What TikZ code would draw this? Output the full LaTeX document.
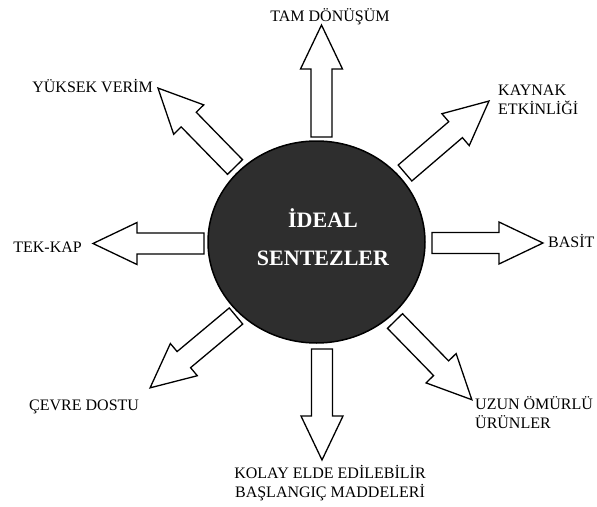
\documentclass[tikz,border=0pt]{standalone}
\usepackage{fontspec}
\setmainfont{Liberation Serif}
\usetikzlibrary{shapes.geometric}
\newcommand\blockarrow[3]{%
  \draw[barr,shift={#1},rotate=#2]
    (0,-10.5) -- (#3-44,-10.5) -- (#3-44,-21) -- (#3,0) -- (#3-44,21) -- (#3-44,10.5) -- (0,10.5) -- cycle;}
\begin{document}
\begin{tikzpicture}[x=1pt,y=-1pt,
  barr/.style={draw=black,fill=white,line width=1.3pt,line join=miter},
  lbl/.style={font=\fontsize{16}{19}\selectfont,inner sep=0pt,text=black},
  core/.style={ellipse,draw=black,line width=1.5pt,fill=black!82,minimum width=217pt,minimum height=202pt,inner sep=0pt},
  coretext/.style={font=\bfseries\fontsize{22}{38}\selectfont,text=white,align=center,inner sep=0pt}]
\useasboundingbox (0,0) rectangle (597,506);
\fill[white] (0,0) rectangle (597,506);
% central ellipse
\node[core] (core) at (316.5,242) {};
\node[coretext,anchor=base] (title) at (323,265) {İDEAL\\SENTEZLER};
% arrows
\blockarrow{(321.5,137)}{90}{112}
\blockarrow{(322,349)}{-90}{111}
\blockarrow{(432,243)}{0}{111}
\blockarrow{(204,243.5)}{180}{111}
\blockarrow{(405,173)}{40.6}{110.6}
\blockarrow{(235,167)}{134.3}{110.3}
\blockarrow{(236,316)}{219.9}{112}
\blockarrow{(395,321)}{-45.7}{110}
% labels
\node[lbl,anchor=base] (tam) at (330,21) {TAM DÖNÜŞÜM};
\node[lbl,anchor=base west,align=left] (kay) at (498,114) {KAYNAK\\ETKİNLİĞİ};
\node[lbl,anchor=base east] (yuk) at (153,92) {YÜKSEK VERİM};
\node[lbl,anchor=base east] (tek) at (82,252) {TEK-KAP};
\node[lbl,anchor=base west] (bas) at (548,247) {BASİT};
\node[lbl,anchor=base west] (cev) at (29,410) {ÇEVRE DOSTU};
\node[lbl,anchor=base west,align=left] (uzun) at (475,428) {UZUN ÖMÜRLÜ\\ÜRÜNLER};
\node[lbl,anchor=base,align=center] (kol) at (330,497) {KOLAY ELDE EDİLEBİLİR\\BAŞLANGIÇ MADDELERİ};
\end{tikzpicture}
\end{document}
